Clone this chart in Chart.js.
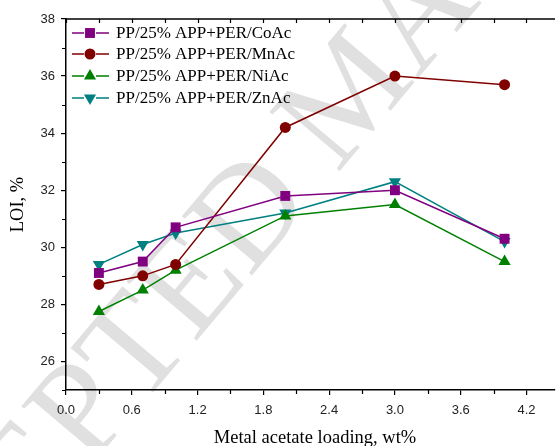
<!DOCTYPE html>
<html>
<head>
<meta charset="utf-8">
<script src="https://cdn.jsdelivr.net/npm/chart.js@4.4.0/dist/chart.umd.min.js"></script>
<style>
  html, body { margin: 0; padding: 0; background: #fff; overflow: hidden; }
  #wrap { width: 562px; height: 446px; }
</style>
</head>
<body>
<div id="wrap"><canvas id="loiChart" width="562" height="446"></canvas></div>
<script>
// values
const loading = [0.3, 0.7, 1.0, 2.0, 3.0, 4.0];
const loiCo = [29.1, 29.5, 30.7, 31.8, 32.0, 30.3];
const loiMn = [28.7, 29.0, 29.4, 34.2, 36.0, 35.7];
const loiNi = [27.75, 28.5, 29.2, 31.1, 31.5, 29.5];
const loiZn = [29.4, 30.1, 30.5, 31.2, 32.3, 30.2];
const seriesNames = [
  "PP/25% APP+PER/CoAc",
  "PP/25% APP+PER/MnAc",
  "PP/25% APP+PER/NiAc",
  "PP/25% APP+PER/ZnAc"
];
const xTicks = [0.0, 0.6, 1.2, 1.8, 2.4, 3.0, 3.6, 4.2];
const xMinorTicks = [0.3, 0.9, 1.5, 2.1, 2.7, 3.3, 3.9];
const yTicks = [26, 28, 30, 32, 34, 36, 38];
const yMinorTicks = [25, 27, 29, 31, 33, 35, 37];
const xTitle = "Metal acetate loading, wt%";
const yTitle = "LOI, %";
const watermark = "ACCEPTED MANUSCRIPT";

const serif = "'Liberation Serif', 'Times New Roman', serif";
const sans = "'Liberation Sans', Arial, sans-serif";

function toPoints(ys) {
  return loading.map((x, i) => ({ x: x, y: ys[i] }));
}

function makeSet(name, ys, color, style, radius, rotation) {
  return {
    label: name,
    data: toPoints(ys),
    borderColor: color,
    backgroundColor: color,
    borderWidth: 1.5,
    pointStyle: style,
    pointRadius: radius,
    pointRotation: rotation || 0,
    pointBorderWidth: 0,
    pointBackgroundColor: color,
    tension: 0
  };
}

const datasets = [
  makeSet(seriesNames[0], loiCo, "#800080", "rect", 7),
  makeSet(seriesNames[1], loiMn, "#800000", "circle", 5.5),
  makeSet(seriesNames[2], loiNi, "#008000", "triangle", 7),
  makeSet(seriesNames[3], loiZn, "#008080", "triangle", 7, 180)
];

// faint diagonal watermark behind the plot
const watermarkPlugin = {
  id: "watermark",
  beforeDraw(chart) {
    const ctx = chart.ctx;
    ctx.save();
    ctx.translate(-152, 754);
    ctx.rotate(-0.87);
    ctx.font = "140px " + serif;
    ctx.fillStyle = "rgba(0,0,0,0.12)";
    ctx.textBaseline = "alphabetic";
    ctx.fillText(watermark, 0, 0);
    ctx.restore();
  }
};

// minor ticks, top frame line, axis titles and the inset legend
const framePlugin = {
  id: "frame",
  afterDraw(chart) {
    const ctx = chart.ctx;
    const a = chart.chartArea;
    const xs = chart.scales.x;
    const ys = chart.scales.y;
    ctx.save();
    ctx.strokeStyle = "#000";
    ctx.lineWidth = 1.5;

    // top frame
    ctx.beginPath();
    ctx.moveTo(a.left, a.top);
    ctx.lineTo(a.right, a.top);
    ctx.stroke();

    ctx.lineWidth = 1.2;
    ctx.beginPath();
    xTicks.concat(xMinorTicks).forEach(v => {
      const px = Math.round(xs.getPixelForValue(v)) + 0.5;
      ctx.moveTo(px, a.top);
      ctx.lineTo(px, a.top + 4);
    });
    xMinorTicks.forEach(v => {
      const px = Math.round(xs.getPixelForValue(v)) + 0.5;
      ctx.moveTo(px, a.bottom);
      ctx.lineTo(px, a.bottom + 4);
    });
    yMinorTicks.forEach(v => {
      const py = Math.round(ys.getPixelForValue(v)) + 0.5;
      ctx.moveTo(a.left, py);
      ctx.lineTo(a.left - 4, py);
    });
    ctx.stroke();

    // axis titles
    ctx.fillStyle = "#000";
    ctx.font = "18.5px " + serif;
    ctx.textAlign = "center";
    ctx.textBaseline = "alphabetic";
    ctx.fillText(xTitle, 315, 443);
    ctx.save();
    ctx.translate(23, (a.top + a.bottom) / 2);
    ctx.rotate(-Math.PI / 2);
    ctx.fillText(yTitle, 0, 0);
    ctx.restore();

    // legend
    const rowY = [33, 54, 76, 98];
    ctx.font = "17px " + serif;
    ctx.textAlign = "left";
    ctx.textBaseline = "middle";
    chart.data.datasets.forEach((ds, i) => {
      const y = rowY[i];
      ctx.strokeStyle = ds.borderColor;
      ctx.lineWidth = 1.5;
      ctx.beginPath();
      ctx.moveTo(72, y);
      ctx.lineTo(84, y);
      ctx.moveTo(96, y);
      ctx.lineTo(109, y);
      ctx.stroke();
      ctx.fillStyle = ds.pointBackgroundColor;
      Chart.helpers.drawPoint(ctx, {
        pointStyle: ds.pointStyle,
        radius: ds.pointRadius,
        rotation: ds.pointRotation,
        borderWidth: 0
      }, 90, y);
      ctx.fillStyle = "#000";
      ctx.fillText(ds.label, 116, y + 1);
    });
    ctx.restore();
  }
};

new Chart(document.getElementById("loiChart"), {
  type: "line",
  data: { datasets: datasets },
  options: {
    responsive: false,
    animation: false,
    devicePixelRatio: 1,
    layout: { padding: { top: 19, left: 0, right: 0, bottom: 0 } },
    plugins: {
      legend: { display: false },
      tooltip: { enabled: false }
    },
    scales: {
      x: {
        type: "linear",
        min: 0,
        max: 4.46,
        afterBuildTicks: s => { s.ticks = xTicks.map(v => ({ value: v })); },
        afterFit: s => { s.height = 56; },
        grid: { display: true, drawOnChartArea: false, drawTicks: true, tickLength: 5, color: "#000", lineWidth: 1.2 },
        border: { display: true, color: "#000", width: 1.5 },
        ticks: {
          color: "#222",
          font: { family: sans, size: 13 },
          padding: 8,
          maxRotation: 0,
          callback: v => v.toFixed(1)
        }
      },
      y: {
        type: "linear",
        min: 25,
        max: 38,
        afterBuildTicks: s => { s.ticks = yTicks.map(v => ({ value: v })); },
        afterFit: s => { s.width = 66; },
        grid: { display: true, drawOnChartArea: false, drawTicks: true, tickLength: 5, color: "#000", lineWidth: 1.2 },
        border: { display: true, color: "#000", width: 1.5 },
        ticks: {
          color: "#222",
          font: { family: sans, size: 13 },
          padding: 6,
          callback: v => String(v)
        }
      }
    }
  },
  plugins: [watermarkPlugin, framePlugin]
});
</script>
</body>
</html>
